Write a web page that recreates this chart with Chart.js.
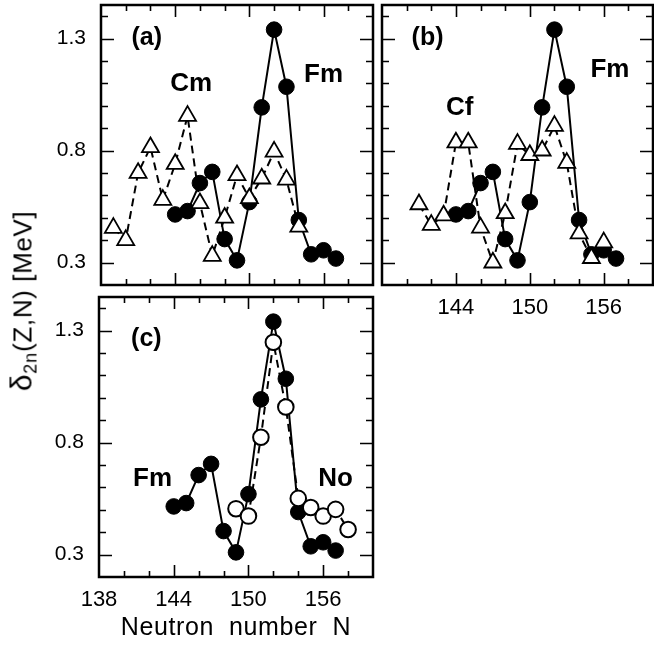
<!DOCTYPE html>
<html>
<head>
<meta charset="utf-8">
<script src="https://cdn.jsdelivr.net/npm/chart.js@4.4.1/dist/chart.umd.min.js"></script>
<style>
  html, body { margin: 0; padding: 0; background: #fff; }
  #wrap { position: relative; width: 654px; height: 645px; overflow: hidden; background: #fff; }
  #wrap canvas { position: absolute; left: 0; top: 0; }
  #ytitle {
    position: absolute; left: 23px; top: 301px;
    transform: translate(-50%, -50%) rotate(-90deg);
    white-space: nowrap; font-family: "Liberation Sans", Arial, Helvetica, sans-serif;
    font-size: 26px; color: #000; line-height: 1; letter-spacing: 0.6px;
  }
  #ytitle .d { font-size: 30px; }
  #ytitle sub { font-size: 18px; vertical-align: -5px; letter-spacing: 1px; }
  #xtitle {
    position: absolute; left: 99px; width: 274px; top: 611px; text-align: center;
    font-family: "Liberation Sans", Arial, Helvetica, sans-serif; font-size: 25px; line-height: 30px;
    white-space: pre; letter-spacing: 0.6px; color: #000;
  }
</style>
</head>
<body>
<div id="wrap">
  <canvas id="pa" width="654" height="645"></canvas>
  <canvas id="pb" width="654" height="645"></canvas>
  <canvas id="pc" width="654" height="645"></canvas>
  <div id="ytitle"><span class="d">δ</span><sub>2n</sub>(Z,N) [MeV]</div>
  <div id="xtitle">Neutron  number  N</div>
</div>
<script>
// ---------------- data ----------------
const fmN = [144, 145, 146, 147, 148, 149, 150, 151, 152, 153, 154, 155, 156, 157];
const fmD = [0.515, 0.53, 0.655, 0.705, 0.405, 0.31, 0.57, 0.993, 1.34, 1.085, 0.49, 0.337, 0.355, 0.318];

const cmN = [139, 140, 141, 142, 143, 144, 145, 146, 147, 148, 149, 150, 151, 152, 153, 154];
const cmD = [0.455, 0.40, 0.70, 0.815, 0.58, 0.74, 0.955, 0.565, 0.33, 0.50, 0.69, 0.587, 0.675, 0.795, 0.67, 0.46];

const cfN = [141, 142, 143, 144, 145, 146, 147, 148, 149, 150, 151, 152, 153, 154, 155, 156];
const cfD = [0.56, 0.468, 0.51, 0.836, 0.836, 0.456, 0.30, 0.52, 0.83, 0.78, 0.80, 0.91, 0.745, 0.43, 0.32, 0.39];

const noN = [149, 150, 151, 152, 153, 154, 155, 156, 157, 158];
const noD = [0.505, 0.472, 0.824, 1.248, 0.959, 0.551, 0.51, 0.472, 0.502, 0.412];

const xRange = [138, 160];
const yRange = [0.2, 1.45];
const xTickLabelsC = [138, 144, 150, 156];
const xTickLabelsB = [144, 150, 156];
const yTickLabels = [0.3, 0.8, 1.3];
const xMajor = [138, 144, 150, 156];

// ---------------- helpers ----------------
const FONT = '"Liberation Sans", Arial, Helvetica, sans-serif';
const W = 654, H = 645;

function pts(ns, ds) { return ns.map((n, i) => ({ x: n, y: ds[i] })); }

const framePlugin = {
  id: 'frame',
  afterDatasetsDraw(chart) {
    const ctx = chart.ctx, a = chart.chartArea;
    const xs = chart.scales.x, ys = chart.scales.y;
    ctx.save();
    ctx.strokeStyle = '#000';
    ctx.lineWidth = 1.6;
    ctx.beginPath();
    for (let v = xRange[0] + 2; v < xRange[1]; v += 2) {
      const px = Math.round(xs.getPixelForValue(v)) + 0.5;
      const len = xMajor.includes(v) ? 12 : 6;
      ctx.moveTo(px, a.bottom); ctx.lineTo(px, a.bottom - len);
      ctx.moveTo(px, a.top); ctx.lineTo(px, a.top + len);
    }
    for (let k = 3; k <= 14; k++) {
      const v = k / 10;
      const py = Math.round(ys.getPixelForValue(v)) + 0.5;
      const major = (k === 3 || k === 8 || k === 13);
      const len = major ? 13 : 7;
      ctx.moveTo(a.left, py); ctx.lineTo(a.left + len, py);
      ctx.moveTo(a.right, py); ctx.lineTo(a.right - len, py);
    }
    ctx.stroke();
    ctx.lineWidth = 2.5;
    ctx.strokeRect(a.left, a.top, a.right - a.left, a.bottom - a.top);
    ctx.restore();
  }
};

const labelPlugin = {
  id: 'panelLabels',
  afterDraw(chart, args, opts) {
    const ctx = chart.ctx, xs = chart.scales.x, ys = chart.scales.y;
    ctx.save();
    ctx.fillStyle = '#000';
    ctx.textAlign = 'center';
    ctx.textBaseline = 'middle';
    (opts.items || []).forEach(it => {
      ctx.font = it.font;
      ctx.fillText(it.text, xs.getPixelForValue(it.x), ys.getPixelForValue(it.y));
    });
    ctx.restore();
  }
};

function zeroPad(s) { s.paddingLeft = 0; s.paddingRight = 0; s.paddingTop = 0; s.paddingBottom = 0; }

function makePanel(id, box, datasets, opts) {
  const yW = opts.showY ? 62 : 0;
  const xH = opts.xTicks ? 45 : 0;
  return new Chart(document.getElementById(id), {
    type: 'line',
    data: { datasets },
    options: {
      responsive: false,
      animation: false,
      events: [],
      layout: {
        autoPadding: false,
        padding: { left: box.left - yW, right: W - box.right, top: box.top, bottom: H - box.bottom - xH }
      },
      plugins: {
        legend: { display: false },
        tooltip: { enabled: false },
        panelLabels: { items: opts.labels }
      },
      scales: {
        x: {
          type: 'linear', min: xRange[0], max: xRange[1],
          display: !!opts.xTicks,
          grid: { display: false, drawTicks: false },
          border: { display: false },
          afterBuildTicks: s => { s.ticks = (opts.xTicks || []).map(v => ({ value: v })); },
          afterFit: s => { s.height = xH; zeroPad(s); },
          ticks: { color: '#000', padding: 10, maxRotation: 0, autoSkip: false,
                   font: { family: FONT, size: 22 }, callback: v => String(v) }
        },
        y: {
          type: 'linear', min: yRange[0], max: yRange[1],
          display: !!opts.showY,
          grid: { display: false, drawTicks: false },
          border: { display: false },
          afterBuildTicks: s => { s.ticks = yTickLabels.map(v => ({ value: v })); },
          afterFit: s => { s.width = yW; zeroPad(s); },
          ticks: { color: '#000', padding: 15, autoSkip: false,
                   font: { family: FONT, size: 21 }, callback: v => Number(v).toFixed(1) }
        }
      }
    },
    plugins: [framePlugin, labelPlugin]
  });
}

const fmSet = () => ({
  label: 'Fm', data: pts(fmN, fmD), order: 2,
  borderColor: '#000', backgroundColor: '#000', borderWidth: 2,
  pointStyle: 'circle', pointRadius: 7.8, pointBackgroundColor: '#000', pointBorderColor: '#000', pointBorderWidth: 1
});
const triSet = (label, ns, ds) => ({
  label, data: pts(ns, ds), order: 1,
  borderColor: '#000', borderWidth: 2, borderDash: [8, 5],
  pointStyle: 'triangle', pointRadius: 9.8, pointBackgroundColor: '#fff', pointBorderColor: '#000', pointBorderWidth: 1.8
});
const noSet = () => ({
  label: 'No', data: pts(noN, noD), order: 1,
  borderColor: '#000', borderWidth: 2, borderDash: [8, 5],
  pointStyle: 'circle', pointRadius: 7.8, pointBackgroundColor: '#fff', pointBorderColor: '#000', pointBorderWidth: 2
});

const big = 'bold 26px ' + FONT;
const tag = 'bold 25px ' + FONT;

makePanel('pa', { left: 101, right: 373, top: 5, bottom: 285 },
  [fmSet(), triSet('Cm', cmN, cmD)],
  { showY: true, xTicks: null, labels: [
    { text: '(a)', x: 141.7, y: 1.3, font: tag },
    { text: 'Cm', x: 145.3, y: 1.10, font: big },
    { text: 'Fm', x: 156.0, y: 1.14, font: big }
  ] });

makePanel('pb', { left: 382, right: 653, top: 5, bottom: 285 },
  [fmSet(), triSet('Cf', cfN, cfD)],
  { showY: false, xTicks: xTickLabelsB, labels: [
    { text: '(b)', x: 141.7, y: 1.3, font: tag },
    { text: 'Cf', x: 144.3, y: 0.99, font: big },
    { text: 'Fm', x: 156.5, y: 1.16, font: big }
  ] });

makePanel('pc', { left: 99, right: 373, top: 297, bottom: 577 },
  [fmSet(), noSet()],
  { showY: true, xTicks: xTickLabelsC, labels: [
    { text: '(c)', x: 141.8, y: 1.26, font: tag },
    { text: 'Fm', x: 142.3, y: 0.64, font: big },
    { text: 'No', x: 157.0, y: 0.64, font: big }
  ] });
</script>
</body>
</html>
